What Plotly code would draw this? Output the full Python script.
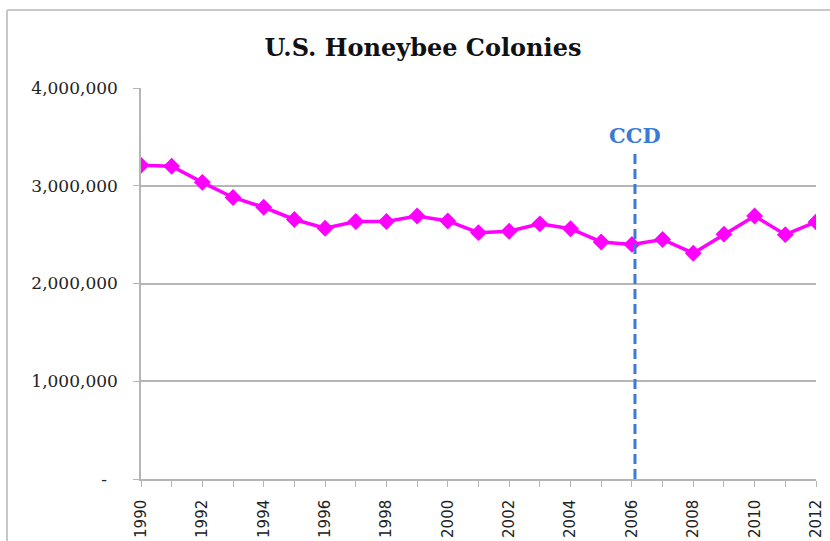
import plotly.graph_objects as go

years = list(range(1990, 2013))
colonies = [3210000, 3200000, 3035000, 2880000, 2780000, 2655000, 2565000,
            2635000, 2635000, 2690000, 2640000, 2520000, 2535000, 2610000,
            2560000, 2425000, 2400000, 2450000, 2310000, 2505000, 2690000,
            2500000, 2630000]
y_ticks = [0, 1000000, 2000000, 3000000, 4000000]
y_ticktext = ["-" + "\u00a0" * 2, "1,000,000", "2,000,000", "3,000,000", "4,000,000"]
x_ticktext = [str(y) if y % 2 == 0 else "" for y in years]
ccd_year = 2006.1
ccd_top = 3350000
title_text = "U.S. Honeybee Colonies"

W, H = 830, 541
L, R, T, B = 141, 14, 88, 62
pw, ph = W - L - R, H - T - B

def px_x(px):
    return (px - L) / pw

def px_y(py):
    return (H - B - py) / ph

fig = go.Figure()
fig.add_trace(go.Scatter(
    x=years, y=colonies, mode="lines+markers",
    line=dict(color="#ff00ff", width=3.5),
    marker=dict(symbol="diamond", size=13, color="#ff00ff"),
    showlegend=False, hoverinfo="x+y"))

grey = "#b5b5b5"
fig.update_layout(
    width=W, height=H,
    margin=dict(l=L, r=R, t=T, b=B, autoexpand=False),
    plot_bgcolor="white", paper_bgcolor="white",
    title=dict(text="<b>" + title_text + "</b>", x=px_x(423), xref="paper",
               xanchor="center", y=1 - 48 / H, yanchor="middle",
               font=dict(family="DejaVu Serif", size=24, color="#111111")),
    xaxis=dict(range=[1990, 2012], tickvals=years, ticktext=x_ticktext,
               tickangle=-90, ticks="outside", ticklen=6, tickcolor=grey,
               showline=True, linecolor=grey, linewidth=1.5, showgrid=False,
               zeroline=False, ticklabelstandoff=7,
               tickfont=dict(family="DejaVu Sans", size=15, color="#222222")),
    yaxis=dict(range=[0, 4000000], tickvals=y_ticks, ticktext=y_ticktext,
               ticks="outside", ticklen=6, tickcolor=grey,
               showline=True, linecolor=grey, linewidth=1.5,
               showgrid=True, gridcolor=grey, gridwidth=1.5, zeroline=False,
               ticklabelstandoff=12,
               tickfont=dict(family="DejaVu Serif", size=17, color="#222222")),
    shapes=[
        dict(type="line", xref="x", yref="y", x0=ccd_year, x1=ccd_year,
             y0=0, y1=ccd_top,
             line=dict(color="#3a7bd5", width=3, dash="10px,5px")),
        dict(type="line", xref="paper", yref="paper", x0=px_x(7), x1=px_x(832),
             y0=px_y(10), y1=px_y(10), line=dict(color="#c8c8c8", width=2)),
        dict(type="line", xref="paper", yref="paper", x0=px_x(7), x1=px_x(7),
             y0=px_y(10), y1=px_y(545), line=dict(color="#c8c8c8", width=2)),
    ],
    annotations=[
        dict(x=ccd_year, y=ccd_top, xref="x", yref="y", text="<b>CCD</b>",
             showarrow=False, yanchor="bottom", yshift=2,
             font=dict(family="DejaVu Serif", size=21, color="#3a7bd5")),
    ],
)

fig.write_html("out.html",
               config={"displayModeBar": False},
               post_script="document.body.style.margin='0';"
                           "document.body.style.overflow='hidden';")
